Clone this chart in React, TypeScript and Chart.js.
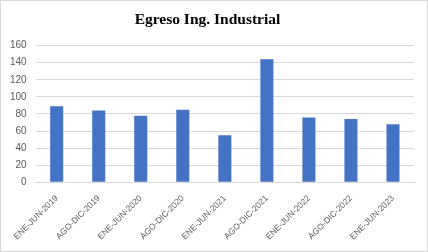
import React, { useEffect, useRef } from "react";
import { Chart, registerables } from "chart.js";

Chart.register(...registerables);

const categories = [
  "ENE-JUN-2019",
  "AGO-DIC-2019",
  "ENE-JUN-2020",
  "AGO-DIC-2020",
  "ENE-JUN-2021",
  "AGO-DIC-2021",
  "ENE-JUN-2022",
  "AGO-DIC-2022",
  "ENE-JUN-2023",
];
const egresados = [89, 84, 78, 85, 55, 144, 76, 74, 68];
const titleText = "Egreso Ing. Industrial";

export default function App() {
  const ref = useRef<HTMLCanvasElement>(null);
  useEffect(() => {
    document.body.style.margin = "0";
    const chart = new Chart(ref.current!, {
      type: "bar",
      data: {
        labels: categories,
        datasets: [
          {
            data: egresados,
            backgroundColor: "#4472c4",
            barPercentage: 0.31,
            categoryPercentage: 1,
          },
        ],
      },
      options: {
        animation: false,
        responsive: false,
        layout: { padding: { left: 0, right: 13, top: 8, bottom: 6 } },
        plugins: {
          legend: { display: false },
          tooltip: { enabled: false },
          title: {
            display: true,
            text: titleText,
            color: "#000000",
            font: { family: "Liberation Serif", size: 15.5, weight: "bold" },
            padding: { top: 2, bottom: 16 },
          },
        },
        scales: {
          x: {
            grid: { display: false },
            border: { color: "#d9d9d9" },
            ticks: {
              color: "#595959",
              font: { family: "Liberation Sans", size: 8.5 },
              maxRotation: 45,
              minRotation: 45,
              padding: 3,
            },
          },
          y: {
            min: 0,
            max: 160,
            grid: { color: "#d9d9d9", drawTicks: false },
            border: { display: false },
            ticks: {
              stepSize: 20,
              color: "#595959",
              font: { family: "Liberation Sans", size: 10 },
              padding: 9,
            },
          },
        },
      },
    });
    return () => chart.destroy();
  }, []);
  return (
    <div
      style={{
        position: "absolute",
        left: 0,
        top: 0,
        width: 428,
        height: 252,
        boxSizing: "border-box",
        border: "1px solid #d9d9d9",
        background: "#ffffff",
      }}
    >
      <canvas ref={ref} width={426} height={250} style={{ display: "block" }} />
    </div>
  );
}
